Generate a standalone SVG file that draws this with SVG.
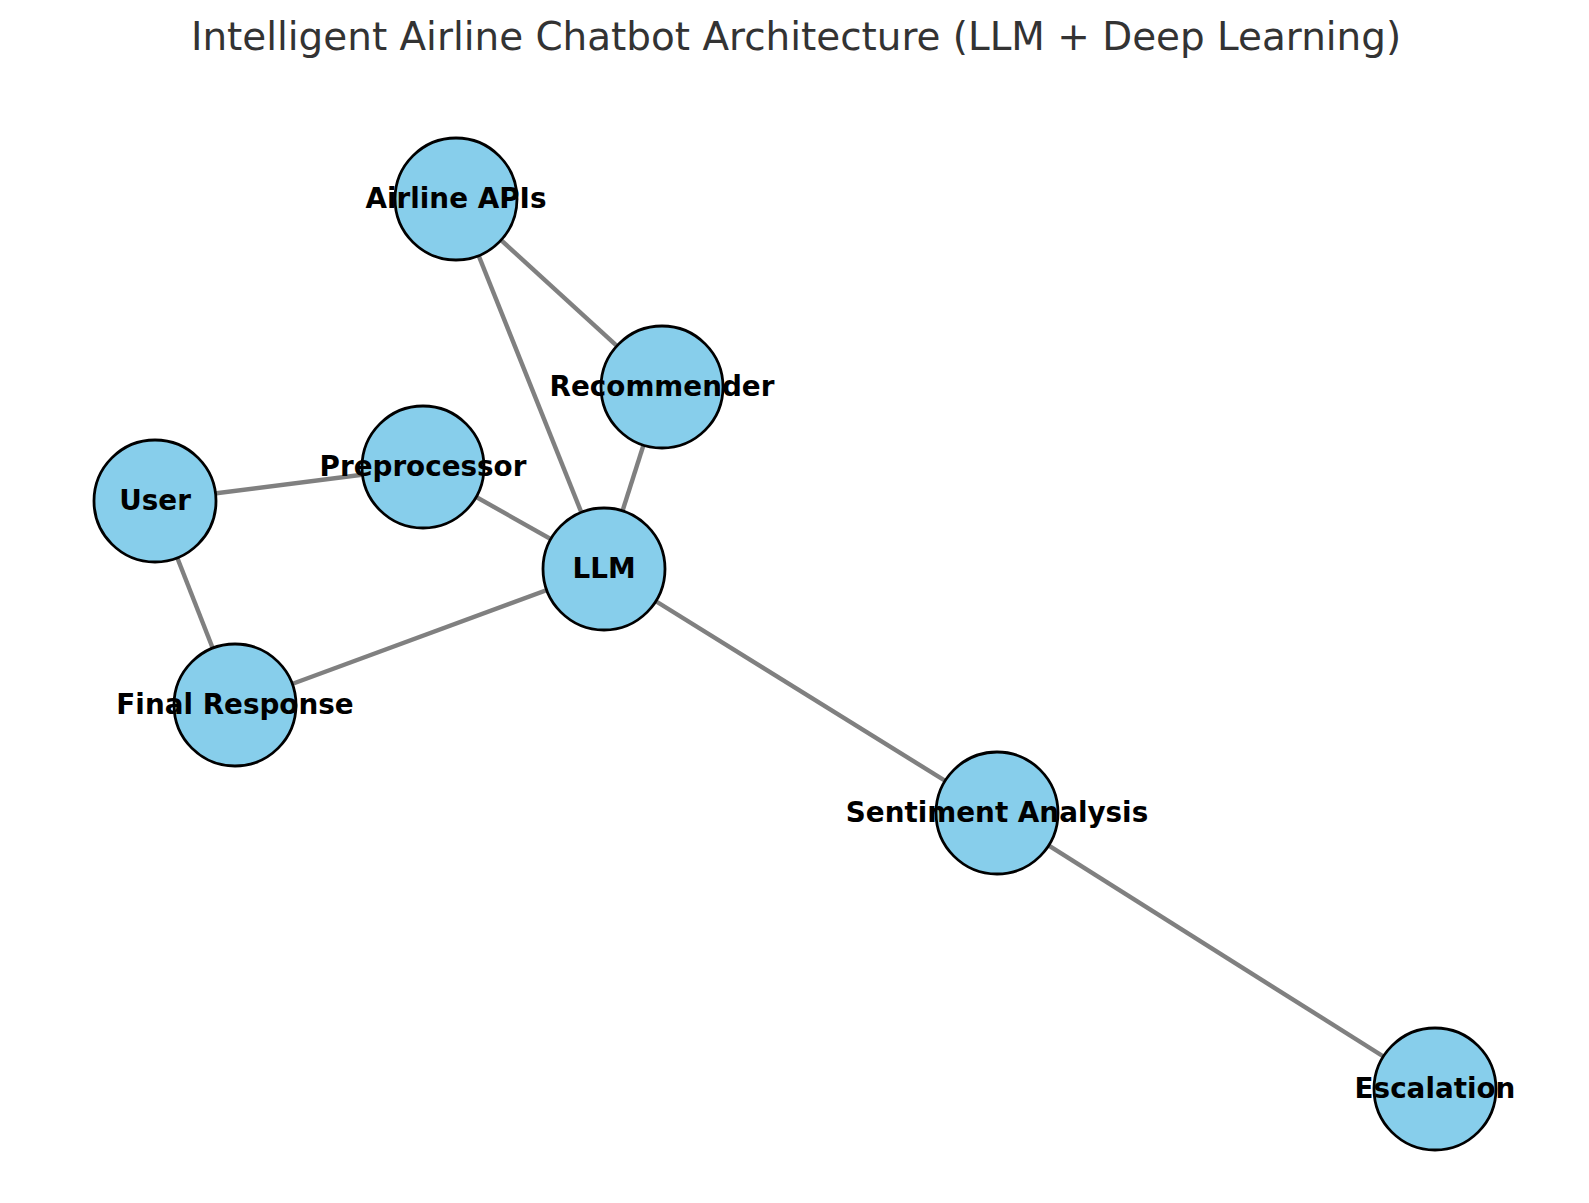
<svg xmlns="http://www.w3.org/2000/svg" width="1589" height="1203" viewBox="0 0 1589 1203">
<style>
.edge{stroke:#808080;stroke-width:4.4;fill:none}
.node circle{fill:#87CEEB;stroke:#000;stroke-width:2.8}
.node text{font-family:"DejaVu Sans",sans-serif;font-weight:bold;font-size:27.8px;fill:#000;text-anchor:middle}
.title{font-family:"DejaVu Sans",sans-serif;font-size:38.9px;fill:#333333;text-anchor:middle}
</style>
<rect width="1589" height="1203" fill="#fff"/>
<text class="title" x="796" y="50">Intelligent Airline Chatbot Architecture (LLM + Deep Learning)</text>
<g id="connectors">
<line class="edge" x1="456" y1="199" x2="662" y2="387"/>
<line class="edge" x1="456" y1="199" x2="604" y2="569"/>
<line class="edge" x1="662" y1="387" x2="604" y2="569"/>
<line class="edge" x1="155" y1="501" x2="423" y2="467"/>
<line class="edge" x1="423" y1="467" x2="604" y2="569"/>
<line class="edge" x1="155" y1="501" x2="235" y2="705"/>
<line class="edge" x1="604" y1="569" x2="235" y2="705"/>
<line class="edge" x1="604" y1="569" x2="997" y2="813"/>
<line class="edge" x1="997" y1="813" x2="1435" y2="1089"/>
</g>
<g id="airline-apis" class="node"><circle cx="456" cy="199" r="61"/><text x="456" y="208">Airline APIs</text></g>
<g id="recommender" class="node"><circle cx="662" cy="387" r="61"/><text x="662" y="396">Recommender</text></g>
<g id="preprocessor" class="node"><circle cx="423" cy="467" r="61"/><text x="423" y="476">Preprocessor</text></g>
<g id="user" class="node"><circle cx="155" cy="501" r="61"/><text x="155" y="510">User</text></g>
<g id="llm" class="node"><circle cx="604" cy="569" r="61"/><text x="604" y="578">LLM</text></g>
<g id="final-response" class="node"><circle cx="235" cy="705" r="61"/><text x="235" y="714">Final Response</text></g>
<g id="sentiment-analysis" class="node"><circle cx="997" cy="813" r="61"/><text x="997" y="822">Sentiment Analysis</text></g>
<g id="escalation" class="node"><circle cx="1435" cy="1089" r="61"/><text x="1435" y="1098">Escalation</text></g>
</svg>
